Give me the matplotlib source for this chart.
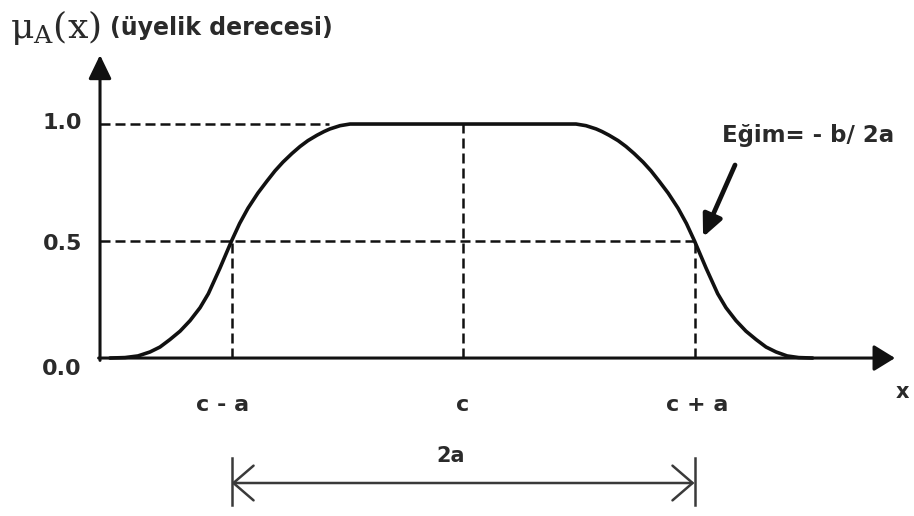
import matplotlib
matplotlib.use("Agg")
import matplotlib.pyplot as plt

# ---- data (x in units of a, centred on c; y = membership degree) ----
curve_x = [-1.525, -1.460, -1.404, -1.352, -1.309, -1.266, -1.222, -1.179,
           -1.136, -1.100, -1.050, -1.0, -0.965, -0.929, -0.886, -0.847,
           -0.812, -0.778, -0.739, -0.704, -0.670, -0.631, -0.600, -0.575,
           -0.531, -0.488, 0.0,
           0.488, 0.531, 0.575, 0.600, 0.631, 0.670, 0.704, 0.739, 0.778,
           0.812, 0.847, 0.886, 0.929, 0.965, 1.0, 1.050, 1.100, 1.136,
           1.179, 1.222, 1.266, 1.309, 1.352, 1.400, 1.450, 1.510]
curve_y = [0.0, 0.002, 0.009, 0.026, 0.047, 0.079, 0.115, 0.160,
           0.215, 0.275, 0.384, 0.5, 0.575, 0.640, 0.705, 0.756,
           0.800, 0.837, 0.874, 0.904, 0.929, 0.952, 0.968, 0.979,
           0.993, 1.0, 1.0,
           1.0, 0.993, 0.979, 0.968, 0.952, 0.929, 0.904, 0.874, 0.837,
           0.800, 0.756, 0.705, 0.640, 0.575, 0.5, 0.384, 0.275, 0.215,
           0.160, 0.115, 0.079, 0.047, 0.026, 0.009, 0.002, 0.0]
tick_vals = [0.0, 0.5, 1.0]
tick_labels = ["0.0", "0.5", "1.0"]
x_marks = [-1.0, 0.0, 1.0]
x_labels = ["c - a", "c", "c + a"]

plt.rcParams['font.family'] = ['DejaVu Sans']
plt.rcParams['mathtext.fontset'] = 'custom'
plt.rcParams['mathtext.rm'] = 'DejaVu Serif'
plt.rcParams['mathtext.it'] = 'DejaVu Serif:italic'

fig = plt.figure(figsize=(9.14, 5.16), dpi=100)
ax = fig.add_axes([0, 0, 1, 1])
ax.set_xlim(-2.0, 1.948)
ax.set_ylim(-0.675, 1.530)
ax.axis('off')

ink = '#111111'
txt = '#2a2a2a'
x_axis0 = -1.568

# axes with arrows
ax.annotate('', xy=(x_axis0, 1.295), xytext=(x_axis0, -0.01),
            arrowprops=dict(arrowstyle='-|>,head_length=1.45,head_width=0.7',
                            lw=2.2, color=ink, shrinkA=0, shrinkB=0))
ax.annotate('', xy=(1.866, 0.0), xytext=(x_axis0 - 0.006, 0.0),
            arrowprops=dict(arrowstyle='-|>,head_length=1.3,head_width=0.8',
                            lw=2.2, color=ink, shrinkA=0, shrinkB=0))

dash = dict(color=ink, lw=1.8, ls=(0, (4, 2)))
# horizontal guides
ax.plot([x_axis0, -0.58], [1.0, 1.0], **dash)
ax.plot([x_axis0, 1.0], [0.5, 0.5], **dash)
# vertical guides
ax.plot([-1.0, -1.0], [0.0, 0.5], **dash)
ax.plot([0.0, 0.0], [0.0, 1.0], **dash)
ax.plot([1.0, 1.0], [0.0, 0.5], **dash)

# membership curve
ax.plot(curve_x, curve_y, color=ink, lw=2.6, solid_joinstyle='round',
        solid_capstyle='round')

# y tick labels
ty = {0.0: -0.047, 0.5: 0.487, 1.0: 1.004}
for v, lab in zip(tick_vals, tick_labels):
    ax.text(-1.646, ty[v], lab, ha='right', va='center', fontsize=16,
            fontweight='bold', color=txt)

# x labels
xoff = {-1.0: -1.04, 0.0: 0.0, 1.0: 1.01}
for v, lab in zip(x_marks, x_labels):
    ax.text(xoff[v], -0.201, lab, ha='center', va='center', fontsize=16,
            fontweight='bold', color=txt)
ax.text(1.896, -0.145, 'x', ha='center', va='center', fontsize=15,
        fontweight='bold', color=txt)

# title
ax.text(-1.955, 1.412, r'$\mathrm{\mu}_{\mathrm{A}}(\mathrm{x})$', ha='left',
        va='center', fontsize=26, color=txt)
ax.text(-1.525, 1.410, '(üyelik derecesi)', ha='left', va='center',
        fontsize=17, fontweight='bold', color=txt)

# slope annotation
ax.text(1.490, 0.953, 'Eğim= - b/ 2a', ha='center', va='center',
        fontsize=16.5, fontweight='bold', color=txt)
ax.annotate('', xy=(1.037, 0.517), xytext=(1.175, 0.825),
            arrowprops=dict(arrowstyle='-|>,head_length=1.3,head_width=0.6',
                            lw=3.4, color=ink, shrinkA=0, shrinkB=0))

# 2a span
span_c = '#3a3a3a'
ax.annotate('', xy=(-1.0, -0.534), xytext=(1.0, -0.534),
            arrowprops=dict(arrowstyle='<->,head_length=1.45,head_width=1.25',
                            lw=1.8, color=span_c, shrinkA=0, shrinkB=0))
ax.plot([-1.0, -1.0], [-0.427, -0.628], color=span_c, lw=1.8)
ax.plot([1.0, 1.0], [-0.427, -0.628], color=span_c, lw=1.8)
ax.text(-0.052, -0.419, '2a', ha='center', va='center', fontsize=15,
        fontweight='bold', color=txt)

fig.savefig('out.png', dpi=100)
